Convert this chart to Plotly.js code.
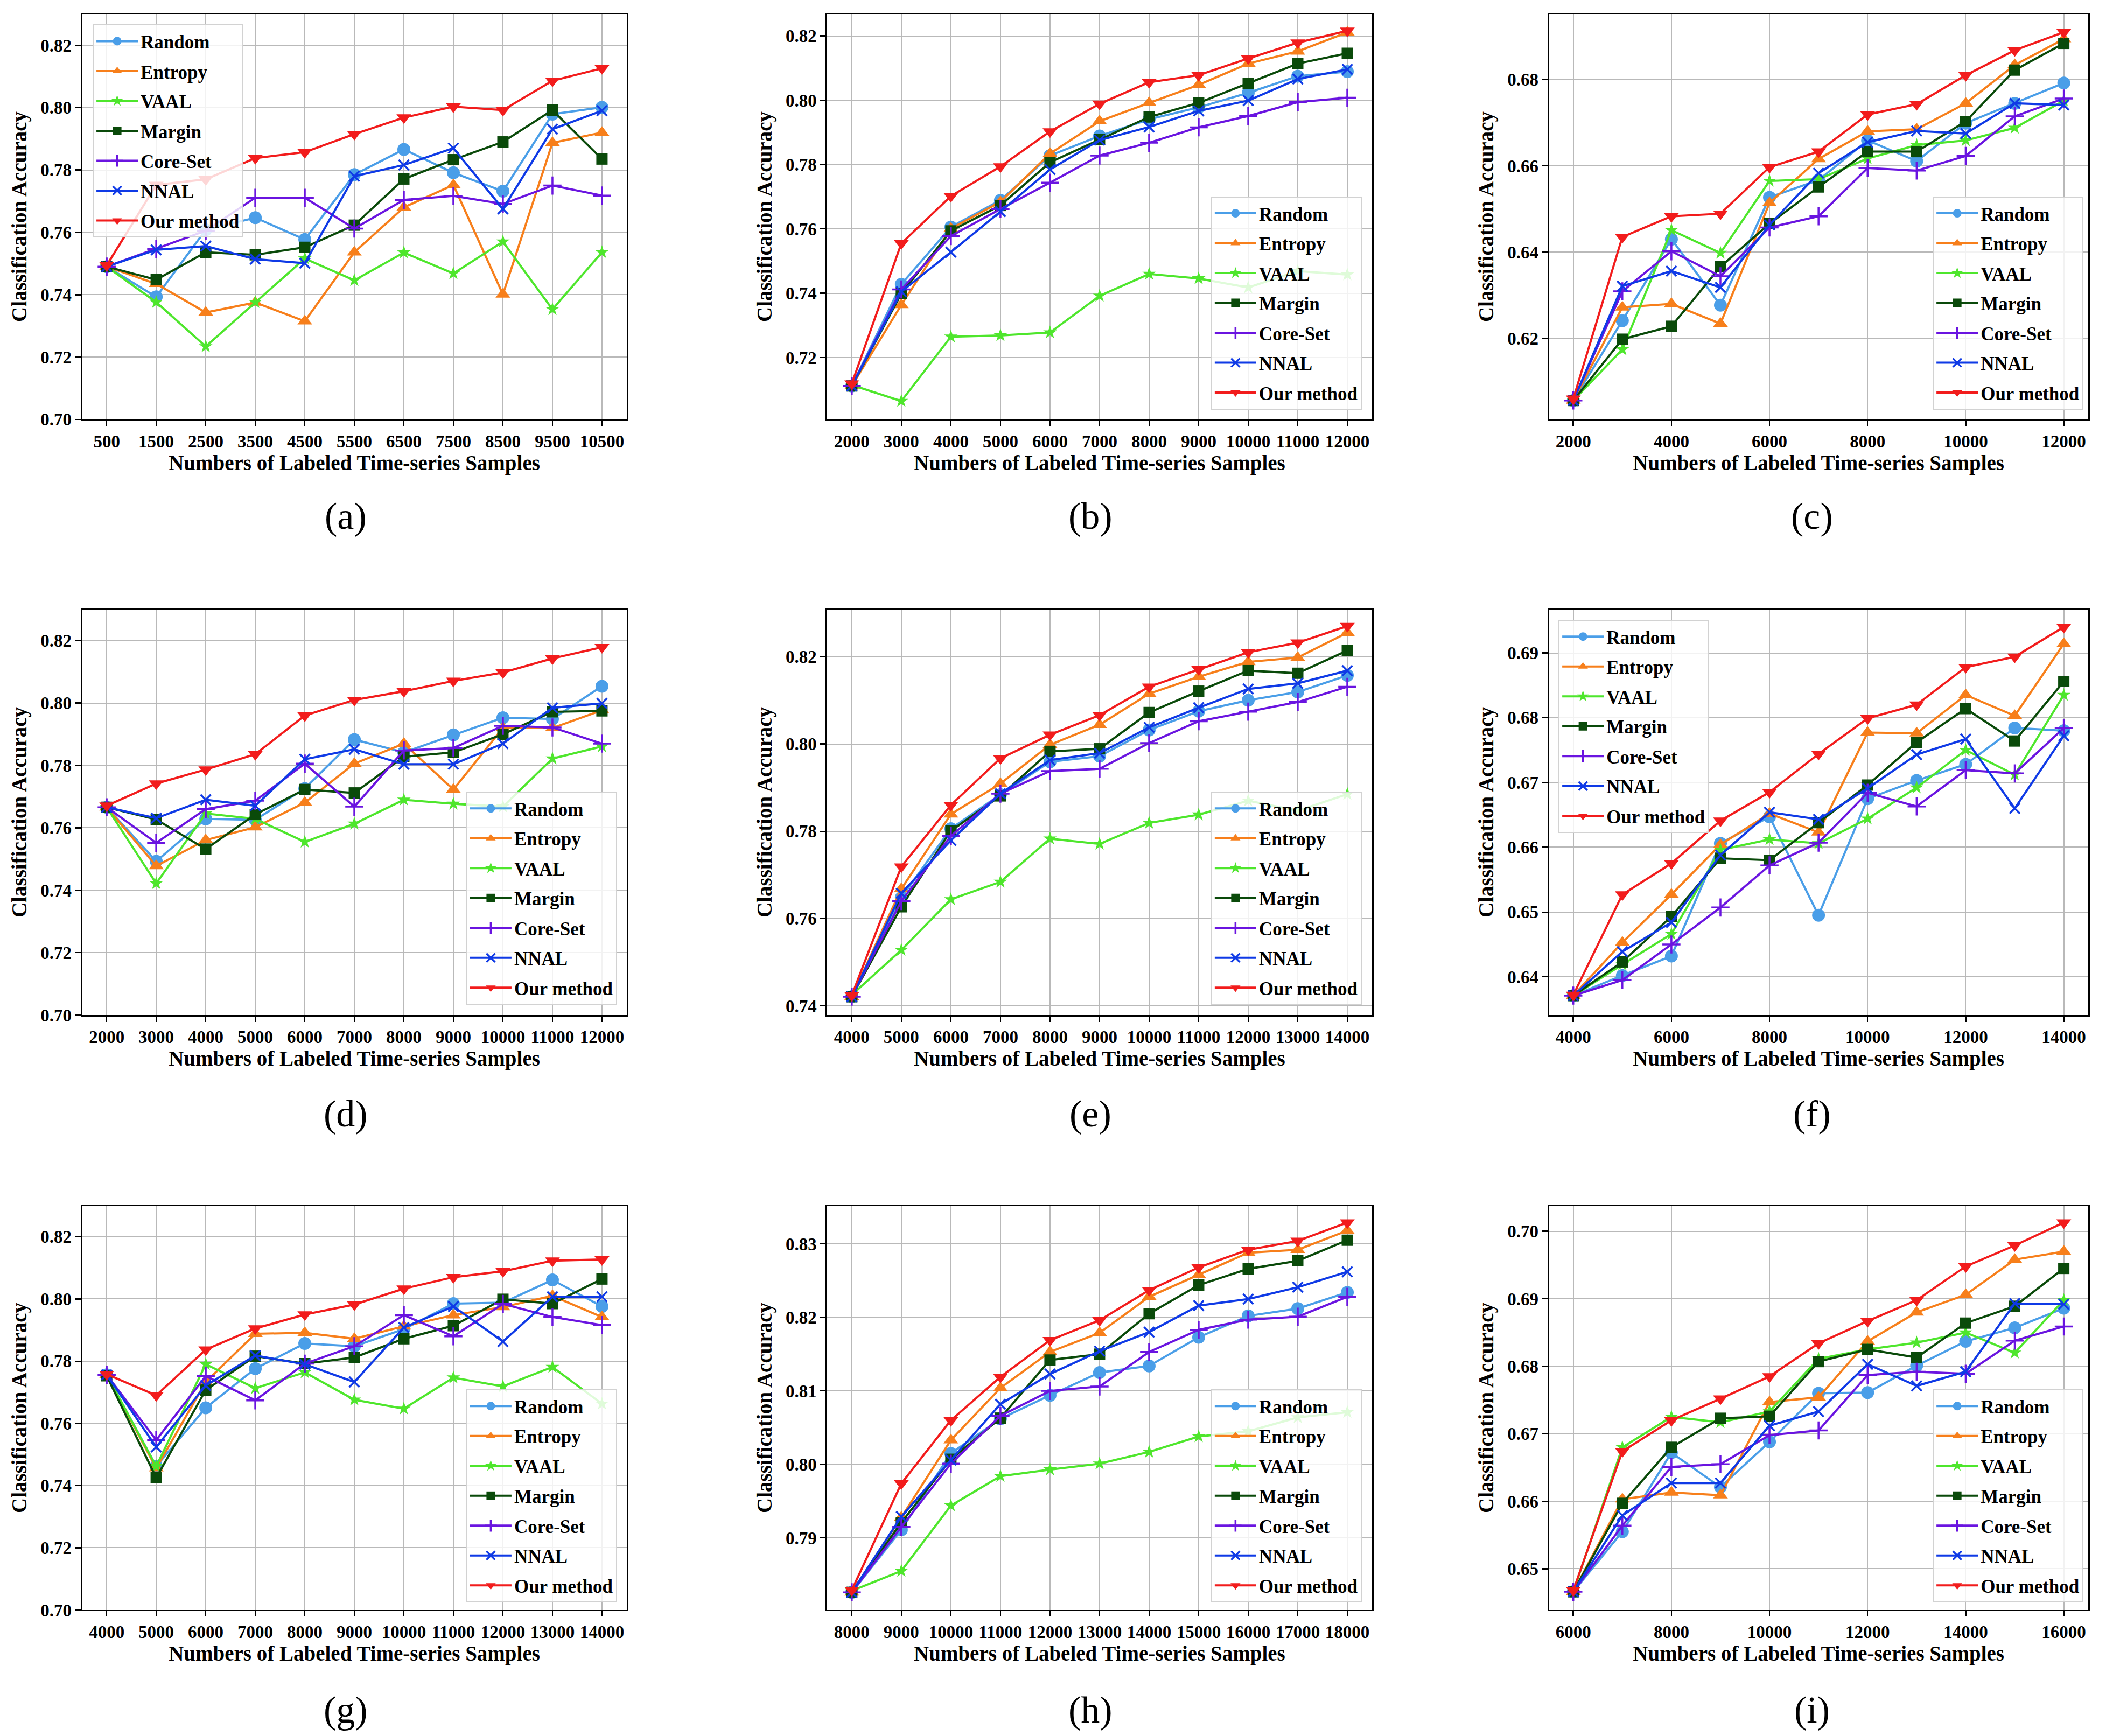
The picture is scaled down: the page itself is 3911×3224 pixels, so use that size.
<!DOCTYPE html>
<html><head><meta charset="utf-8">
<script src="https://cdn.plot.ly/plotly-3.0.1.min.js"></script>
<style>html,body{margin:0;padding:0;background:#fff}#chart{width:3911px;height:3224px}</style>
</head><body><div id="chart"></div>
<script>
// ---------- DATA ----------
const methods = ['Random','Entropy','VAAL','Margin','Core-Set','NNAL','Our method'];
const panelLabels = ['(a)','(b)','(c)','(d)','(e)','(f)','(g)','(h)','(i)'];
const xTitle = 'Numbers of Labeled Time-series Samples';
const yTitle = 'Classification Accuracy';

// (a)
const xA = [500,1500,2500,3500,4500,5500,6500,7500,8500,9500,10500];
const aRandom  = [0.749,0.7393,0.7608,0.7647,0.7577,0.7785,0.7866,0.7791,0.7732,0.7979,0.8001];
const aEntropy = [0.749,0.7435,0.7343,0.7375,0.7315,0.7536,0.7680,0.7752,0.7401,0.7887,0.7920];
const aVAAL    = [0.749,0.7376,0.7234,0.7376,0.7516,0.7446,0.7535,0.7468,0.7570,0.7353,0.7536];
const aMargin  = [0.749,0.7448,0.7536,0.7528,0.7552,0.7623,0.7771,0.7833,0.7890,0.7992,0.7835];
const aCoreSet = [0.749,0.7547,0.7605,0.7711,0.7711,0.7612,0.7704,0.7717,0.7691,0.7750,0.7718];
const aNNAL    = [0.749,0.7544,0.7556,0.7514,0.7501,0.7780,0.7816,0.7870,0.7675,0.7931,0.7990];
const aOurs    = [0.7494,0.7752,0.7770,0.7838,0.7857,0.7915,0.7968,0.8003,0.7992,0.8086,0.8126];
const xTicksA  = [500,1500,2500,3500,4500,5500,6500,7500,8500,9500,10500];

// (b)
const xB = [2000,3000,4000,5000,6000,7000,8000,9000,10000,11000,12000];
const bRandom  = [0.7112,0.7428,0.7606,0.7689,0.7828,0.7889,0.7941,0.7978,0.8023,0.8075,0.8089];
const bEntropy = [0.7112,0.7364,0.7601,0.7684,0.7834,0.7935,0.7992,0.8048,0.8114,0.8152,0.8211];
const bVAAL    = [0.7115,0.7065,0.7265,0.7269,0.7278,0.7392,0.7460,0.7446,0.7418,0.7469,0.7458];
const bMargin  = [0.7112,0.7399,0.7594,0.7673,0.7807,0.7878,0.7948,0.7992,0.8053,0.8114,0.8146];
const bCoreSet = [0.7112,0.7412,0.7578,0.7662,0.7744,0.7828,0.7868,0.7916,0.7951,0.7994,0.8008];
const bNNAL    = [0.7112,0.7405,0.7528,0.7654,0.7785,0.7876,0.7917,0.7967,0.7999,0.8066,0.8096];
const bOurs    = [0.7119,0.7555,0.7702,0.7794,0.7903,0.7989,0.8056,0.8078,0.8130,0.8179,0.8216];
const xTicksB  = [2000,3000,4000,5000,6000,7000,8000,9000,10000,11000,12000];

// (c)
const xC = [2000,3000,4000,5000,6000,7000,8000,9000,10000,11000,12000];
const cRandom  = [0.6056,0.6241,0.6430,0.6277,0.6527,0.6567,0.6659,0.6611,0.6699,0.6745,0.6792];
const cEntropy = [0.6056,0.6272,0.6280,0.6234,0.6514,0.6616,0.6680,0.6685,0.6745,0.6834,0.6894];
const cVAAL    = [0.6056,0.6174,0.6451,0.6398,0.6565,0.6569,0.6617,0.6648,0.6659,0.6688,0.6751];
const cMargin  = [0.6056,0.6198,0.6228,0.6366,0.6466,0.6551,0.6633,0.6633,0.6703,0.6822,0.6884];
const cCoreSet = [0.6056,0.6309,0.6402,0.6344,0.6457,0.6483,0.6595,0.6589,0.6623,0.6715,0.6756];
const cNNAL    = [0.6056,0.6321,0.6356,0.6318,0.6463,0.6583,0.6655,0.6681,0.6675,0.6745,0.6741];
const cOurs    = [0.6060,0.6435,0.6483,0.6489,0.6597,0.6633,0.6719,0.6743,0.6810,0.6868,0.6910];
const xTicksC  = [2000,4000,6000,8000,10000,12000];

// (d)
const xD = [2000,3000,4000,5000,6000,7000,8000,9000,10000,11000,12000];
const dRandom  = [0.7666,0.7493,0.7629,0.7626,0.7726,0.7883,0.7842,0.7898,0.7953,0.7949,0.8054];
const dEntropy = [0.7666,0.7478,0.7561,0.7602,0.7681,0.7806,0.7870,0.7723,0.7920,0.7920,0.7977];
const dVAAL    = [0.7666,0.7422,0.7646,0.7629,0.7555,0.7613,0.7690,0.7677,0.7668,0.7822,0.7861];
const dMargin  = [0.7666,0.7627,0.7532,0.7643,0.7723,0.7712,0.7828,0.7842,0.7900,0.7972,0.7975];
const dCoreSet = [0.7666,0.7552,0.7660,0.7687,0.7806,0.7668,0.7848,0.7856,0.7927,0.7922,0.7870];
const dNNAL    = [0.7666,0.7631,0.7690,0.7671,0.7820,0.7852,0.7804,0.7804,0.7870,0.7985,0.7999];
const dOurs    = [0.7671,0.7742,0.7787,0.7836,0.7960,0.8010,0.8038,0.8071,0.8098,0.8143,0.8179];
const xTicksD  = [2000,3000,4000,5000,6000,7000,8000,9000,10000,11000,12000];

// (e)
const xE = [4000,5000,6000,7000,8000,9000,10000,11000,12000,13000,14000];
const eRandom  = [0.7421,0.7648,0.7806,0.7884,0.7959,0.7972,0.8032,0.8075,0.8100,0.8119,0.8157];
const eEntropy = [0.7421,0.7668,0.7839,0.7909,0.7998,0.8044,0.8115,0.8154,0.8188,0.8198,0.8255];
const eVAAL    = [0.7425,0.7528,0.7644,0.7684,0.7783,0.7771,0.7819,0.7838,0.7870,0.7847,0.7885];
const eMargin  = [0.7421,0.7627,0.7801,0.7881,0.7983,0.7989,0.8072,0.8121,0.8168,0.8162,0.8214];
const eCoreSet = [0.7421,0.7640,0.7789,0.7886,0.7938,0.7943,0.8002,0.8052,0.8074,0.8096,0.8131];
const eNNAL    = [0.7421,0.7658,0.7779,0.7886,0.7963,0.7979,0.8038,0.8083,0.8126,0.8139,0.8168];
const eOurs    = [0.7424,0.7719,0.7860,0.7967,0.8021,0.8066,0.8131,0.8171,0.8210,0.8232,0.8270];
const xTicksE  = [4000,5000,6000,7000,8000,9000,10000,11000,12000,13000,14000];

// (f)
const xF = [4000,5000,6000,7000,8000,9000,10000,11000,12000,13000,14000];
const fRandom  = [0.6371,0.6402,0.6432,0.6606,0.6647,0.6495,0.6675,0.6703,0.6728,0.6784,0.6780];
const fEntropy = [0.6371,0.6453,0.6527,0.6604,0.6652,0.6623,0.6777,0.6776,0.6835,0.6803,0.6914];
const fVAAL    = [0.6371,0.6419,0.6466,0.6596,0.6612,0.6606,0.6644,0.6692,0.6750,0.6712,0.6835];
const fMargin  = [0.6371,0.6423,0.6493,0.6583,0.6580,0.6638,0.6696,0.6762,0.6814,0.6764,0.6856];
const fCoreSet = [0.6371,0.6395,0.6450,0.6507,0.6572,0.6607,0.6684,0.6663,0.6719,0.6714,0.6784];
const fNNAL    = [0.6371,0.6439,0.6484,0.6588,0.6654,0.6643,0.6691,0.6743,0.6767,0.6660,0.6772];
const fOurs    = [0.6372,0.6527,0.6575,0.6641,0.6685,0.6744,0.6799,0.6820,0.6878,0.6894,0.6940];
const xTicksF  = [4000,6000,8000,10000,12000,14000];

// (g)
const xG = [4000,5000,6000,7000,8000,9000,10000,11000,12000,13000,14000];
const gRandom  = [0.7756,0.7462,0.7650,0.7776,0.7857,0.7848,0.7903,0.7985,0.7988,0.8061,0.7976];
const gEntropy = [0.7756,0.7456,0.7733,0.7888,0.7891,0.7872,0.7912,0.7948,0.7974,0.8010,0.7942];
const gVAAL    = [0.7756,0.7462,0.7790,0.7713,0.7764,0.7676,0.7647,0.7747,0.7719,0.7781,0.7663];
const gMargin  = [0.7753,0.7425,0.7707,0.7816,0.7792,0.7812,0.7872,0.7914,0.7999,0.7985,0.8064];
const gCoreSet = [0.7756,0.7546,0.7752,0.7674,0.7792,0.7848,0.7948,0.7880,0.7984,0.7942,0.7916];
const gNNAL    = [0.7756,0.7524,0.7722,0.7818,0.7790,0.7733,0.7908,0.7976,0.7863,0.8007,0.8007];
const gOurs    = [0.7758,0.7690,0.7837,0.7905,0.7950,0.7982,0.8033,0.8070,0.8089,0.8123,0.8127];
const xTicksG  = [4000,5000,6000,7000,8000,9000,10000,11000,12000,13000,14000];

// (h)
const xH = [8000,9000,10000,11000,12000,13000,14000,15000,16000,17000,18000];
const hRandom  = [0.7826,0.7911,0.8015,0.8062,0.8094,0.8125,0.8134,0.8173,0.8202,0.8212,0.8234];
const hEntropy = [0.7826,0.7928,0.8033,0.8104,0.8153,0.8179,0.8228,0.8258,0.8288,0.8292,0.8318];
const hVAAL    = [0.7828,0.7855,0.7944,0.7984,0.7993,0.8001,0.8017,0.8038,0.8045,0.8064,0.8071];
const hMargin  = [0.7826,0.7921,0.8007,0.8063,0.8142,0.8150,0.8205,0.8244,0.8266,0.8277,0.8305];
const hCoreSet = [0.7826,0.7915,0.8001,0.8066,0.8100,0.8106,0.8153,0.8183,0.8197,0.8201,0.8228];
const hNNAL    = [0.7826,0.7929,0.8006,0.8082,0.8123,0.8154,0.8180,0.8216,0.8225,0.8241,0.8262];
const hOurs    = [0.7829,0.7974,0.8060,0.8119,0.8169,0.8196,0.8237,0.8268,0.8292,0.8304,0.8329];
const xTicksH  = [8000,9000,10000,11000,12000,13000,14000,15000,16000,17000,18000];

// (i)
const xI = [6000,7000,8000,9000,10000,11000,12000,13000,14000,15000,16000];
const iRandom  = [0.6466,0.6555,0.6672,0.6621,0.6688,0.6760,0.6761,0.6801,0.6837,0.6857,0.6886];
const iEntropy = [0.6466,0.6603,0.6613,0.6609,0.6747,0.6754,0.6837,0.6880,0.6906,0.6958,0.6970];
const iVAAL    = [0.6466,0.6680,0.6725,0.6717,0.6733,0.6811,0.6825,0.6835,0.6850,0.6820,0.6898];
const iMargin  = [0.6466,0.6597,0.6680,0.6723,0.6726,0.6807,0.6825,0.6813,0.6864,0.6889,0.6945];
const iCoreSet = [0.6466,0.6564,0.6651,0.6655,0.6698,0.6705,0.6787,0.6792,0.6789,0.6838,0.6859];
const iNNAL    = [0.6466,0.6579,0.6627,0.6627,0.6712,0.6733,0.6803,0.6771,0.6792,0.6893,0.6892];
const iOurs    = [0.6468,0.6674,0.6720,0.6752,0.6785,0.6834,0.6867,0.6898,0.6948,0.6979,0.7013];
const xTicksI  = [6000,8000,10000,12000,14000,16000];

const panelX = [xA,xB,xC,xD,xE,xF,xG,xH,xI];
const panelY = [
  [aRandom,aEntropy,aVAAL,aMargin,aCoreSet,aNNAL,aOurs],
  [bRandom,bEntropy,bVAAL,bMargin,bCoreSet,bNNAL,bOurs],
  [cRandom,cEntropy,cVAAL,cMargin,cCoreSet,cNNAL,cOurs],
  [dRandom,dEntropy,dVAAL,dMargin,dCoreSet,dNNAL,dOurs],
  [eRandom,eEntropy,eVAAL,eMargin,eCoreSet,eNNAL,eOurs],
  [fRandom,fEntropy,fVAAL,fMargin,fCoreSet,fNNAL,fOurs],
  [gRandom,gEntropy,gVAAL,gMargin,gCoreSet,gNNAL,gOurs],
  [hRandom,hEntropy,hVAAL,hMargin,hCoreSet,hNNAL,hOurs],
  [iRandom,iEntropy,iVAAL,iMargin,iCoreSet,iNNAL,iOurs]
];
const panelXTicks = [xTicksA,xTicksB,xTicksC,xTicksD,xTicksE,xTicksF,xTicksG,xTicksH,xTicksI];

// ---------- STYLE ----------
const FONT = 'Liberation Serif, Times New Roman, serif';
const styles = [
  {color:'#4a9ee8', symbol:'circle',        size:24, thin:false},
  {color:'#f77f1b', symbol:'triangle-up',   size:24, thin:false},
  {color:'#4ee62c', symbol:'star',          size:19, thin:false},
  {color:'#0a4a0a', symbol:'square',        size:21, thin:false},
  {color:'#6a14e0', symbol:'cross-thin',    size:24, thin:true},
  {color:'#0f3ae6', symbol:'x-thin',        size:19, thin:true},
  {color:'#f21c1c', symbol:'triangle-down', size:24, thin:false}
];
const xRanges = [[0,11000],[1500,12500],[1500,12500],[1500,12500],[3500,14500],[3500,14500],[3500,14500],[7500,18500],[5500,16500]];
const yRanges = [[0.70,0.83],[0.7008,0.8268],[0.6012,0.6952],[0.70,0.83],[0.7379,0.8308],[0.6341,0.6967],[0.70,0.83],[0.7802,0.8352],[0.6439,0.7038]];
const yDticks = [0.02,0.02,0.02,0.02,0.02,0.01,0.02,0.01,0.01];
const yTick0  = [0.70,0.72,0.62,0.70,0.74,0.64,0.70,0.79,0.65];
const colDom = [[0.0389,0.2976],[0.3927,0.6515],[0.7354,0.9916]];
const rowDom = [[0.7584,0.9919],[0.4153,0.6489],[0.0726,0.3055]];
const labelX = [642/3911, 2025/3911, 3365/3911];
const labelY = [1-958/3224, 1-2068/3224, 1-3175/3224];
// legend placement: [x, y, xanchor, yanchor]
const legPos = [
  [0.0440,0.9860,'left','top'],
  [0.6466,0.7640,'right','bottom'],
  [0.9893,0.7640,'right','bottom'],
  [0.2930,0.4212,'right','bottom'],
  [0.6466,0.4212,'right','bottom'],
  [0.7400,0.6430,'left','top'],
  [0.2930,0.0769,'right','bottom'],
  [0.6466,0.0769,'right','bottom'],
  [0.9893,0.0769,'right','bottom']
];

const traces = [];
const layout = {
  width:3911, height:3224,
  margin:{l:0,r:0,t:0,b:0},
  paper_bgcolor:'#ffffff', plot_bgcolor:'#ffffff',
  font:{family:FONT, color:'#000000'},
  showlegend:true,
  annotations:[]
};

for (let p = 0; p < 9; p++) {
  const col = p % 3, row = Math.floor(p / 3);
  const sfx = p === 0 ? '' : String(p + 1);
  const legName = 'legend' + sfx;
  for (let k = 0; k < methods.length; k++) {
    const st = styles[k];
    const marker = {symbol:st.symbol, size:st.size, color:st.color};
    marker.line = st.thin ? {width:3.5, color:st.color} : {width:0};
    traces.push({
      type:'scatter', mode:'lines+markers',
      x: panelX[p], y: panelY[p][k],
      name: methods[k],
      xaxis:'x' + sfx, yaxis:'y' + sfx,
      legend: legName, legendgroup: 'p' + p + 'm' + k,
      line:{color:st.color, width:4},
      marker: marker,
      cliponaxis:false
    });
  }
  layout['xaxis' + sfx] = {
    domain: colDom[col], anchor:'y' + sfx,
    range: xRanges[p], tickmode:'array', tickvals: panelXTicks[p], tickformat:'d',
    showgrid:true, gridcolor:'#b9b9b9', gridwidth:2, zeroline:false,
    showline:true, mirror:true, linecolor:'#000', linewidth:2.5,
    ticks:'outside', ticklen:10, tickwidth:2.5, tickcolor:'#000',
    tickfont:{family:FONT, size:33, weight:'bold', color:'#000'},
    title:{text:xTitle, font:{family:FONT, size:39, weight:'bold', color:'#000'}, standoff:4},
    automargin:false
  };
  layout['yaxis' + sfx] = {
    domain: rowDom[row], anchor:'x' + sfx,
    range: yRanges[p], tick0: yTick0[p], dtick: yDticks[p], tickformat:'.2f',
    showgrid:true, gridcolor:'#b9b9b9', gridwidth:2, zeroline:false,
    showline:true, mirror:true, linecolor:'#000', linewidth:2.5,
    ticks:'outside', ticklen:10, tickwidth:2.5, tickcolor:'#000',
    tickfont:{family:FONT, size:33, weight:'bold', color:'#000'},
    title:{text:yTitle, font:{family:FONT, size:39, weight:'bold', color:'#000'}, standoff:14},
    automargin:false
  };
  const lp = legPos[p];
  layout[legName] = {
    x: lp[0], y: lp[1], xanchor: lp[2], yanchor: lp[3],
    xref:'paper', yref:'paper',
    bgcolor:'rgba(255,255,255,0.82)', bordercolor:'#d2d2d2', borderwidth:2,
    font:{family:FONT, size:35, weight:'bold', color:'#000'},
    itemwidth:77, tracegroupgap:7, traceorder:'grouped'
  };
  layout.annotations.push({
    xref:'paper', yref:'paper', x: labelX[col], y: labelY[row],
    xanchor:'center', yanchor:'middle', showarrow:false,
    text: panelLabels[p], font:{family:FONT, size:70, color:'#000'}
  });
}

Plotly.newPlot('chart', traces, layout, {displayModeBar:false, staticPlot:true});
</script>
</body></html>
